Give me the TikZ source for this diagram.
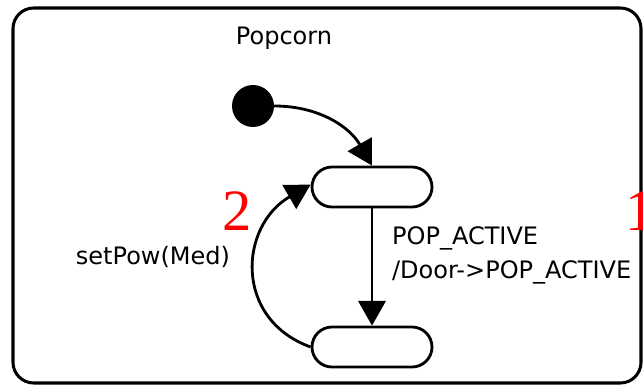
\documentclass[tikz,border=0pt]{standalone}
\usepackage{fontspec}
\setmainfont{Liberation Serif}
\setsansfont{DejaVu Sans}
\usepackage{tikz}
\usetikzlibrary{arrows.meta, shapes.misc}

\begin{document}
\begin{tikzpicture}[
  x=0.03cm, y=0.03cm,
  font=\sffamily\fontsize{20.5}{29}\selectfont,
  fleche/.style={
    -{Triangle[length=0.74cm, width=0.82cm]},
    line width=2.4pt, draw=black
  },
  etat/.style={
    draw, rounded rectangle, line width=2.4pt, fill=white,
    minimum width=3.6cm, minimum height=1.2cm, inner sep=0pt
  },
  numero/.style={text=red, font=\rmfamily\fontsize{50}{50}\selectfont}
]
\useasboundingbox (0,0) rectangle (643,387);
\clip (0,0) rectangle (643,387);

% --- cadre de l'état composite ---
\draw[line width=2.6pt, rounded corners=0.62cm] (13,4) rectangle (641,379);
\node (titre) at (284,349) {Popcorn};

% --- pseudo-état initial et sous-états ---
\node[circle, fill, inner sep=0pt, minimum size=1.26cm] (depart) at (253,281) {};
\node[etat] (haut) at (372,200) {};
\node[etat] (bas) at (372,40) {};

% --- transitions ---
\draw[fleche] (depart.east) to[out=0, in=120] (haut.north);
\draw[fleche] (haut.south) -- (bas.north);
\draw[fleche] (bas.west) to[out=160, in=210, looseness=1.3] ([yshift=2]haut.west);

% --- étiquettes ---
\node (garde) at (153,130) {setPow(Med)};
\node[anchor=west, align=left] (action) at (388,132)
  {POP\_ACTIVE\\/Door->POP\_ACTIVE};

\node[numero] (deux) at (237,176) {2};
\node[numero] (un) at (640,176) {1};

\end{tikzpicture}
\end{document}
